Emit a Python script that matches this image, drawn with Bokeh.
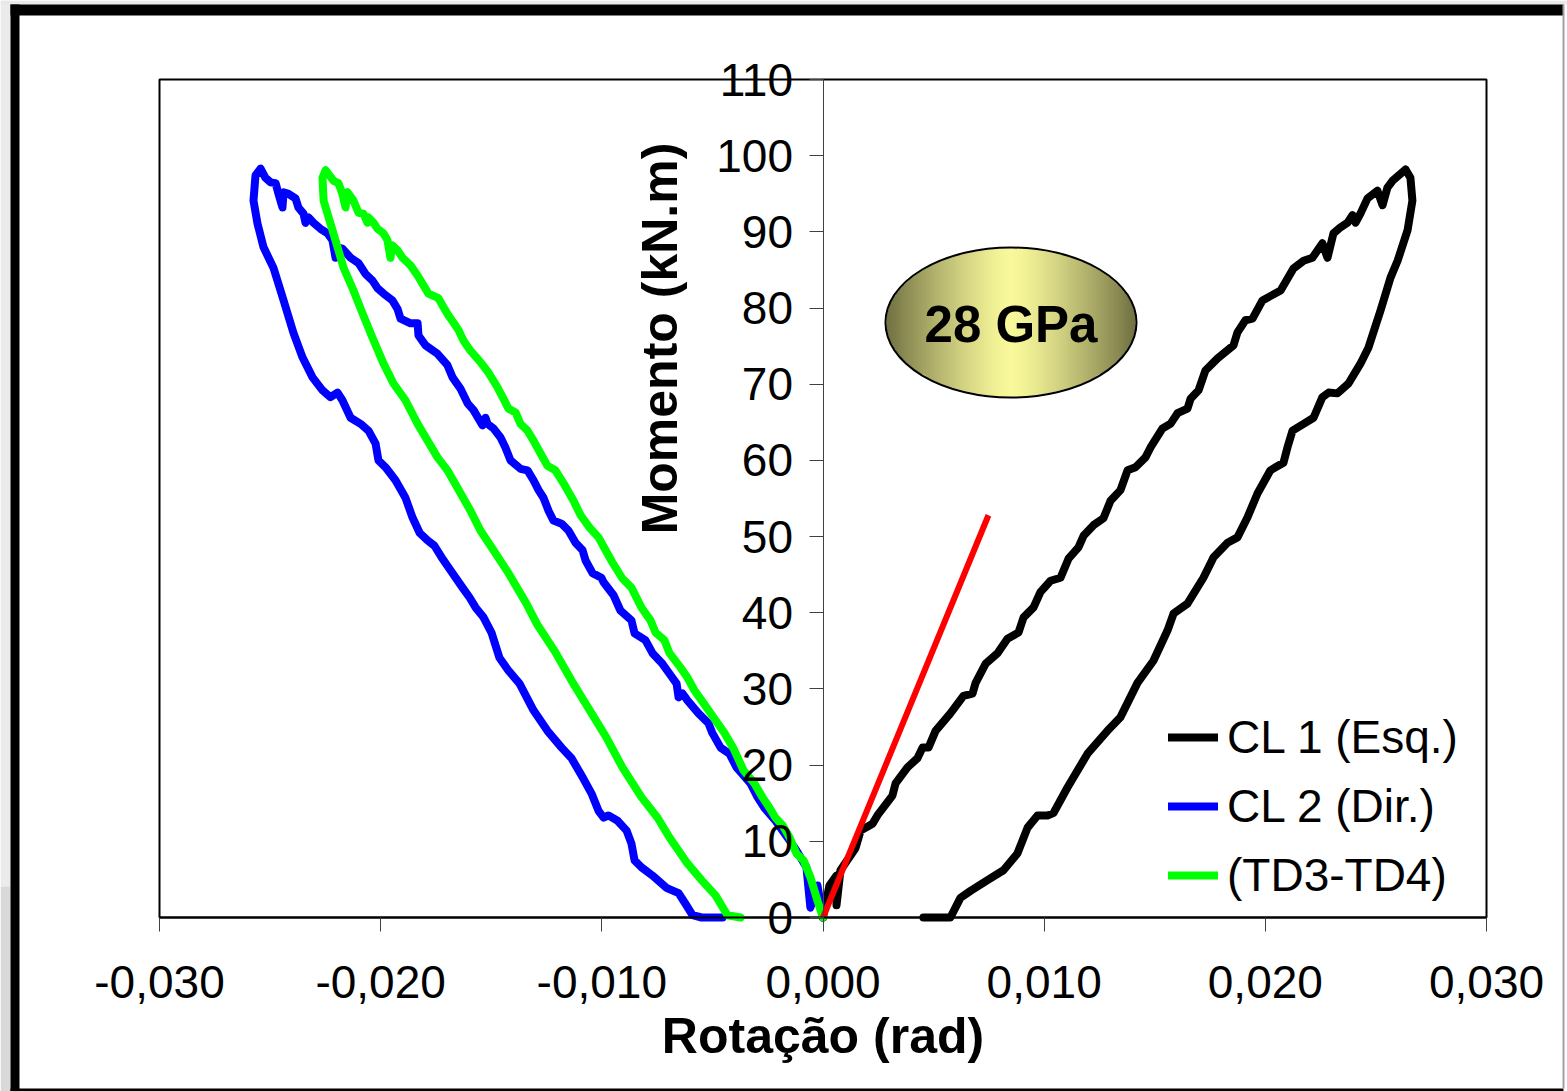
import numpy as np
from bokeh.plotting import figure
from bokeh.models import (CustomJSTickFormatter, FixedTicker, Legend, LegendItem,
                          Label, LinearAxis, Range1d)
from bokeh.embed import file_html
from bokeh.resources import INLINE

# ---------------- data (rotation in rad, moment in kN.m) ----------------
cl1_x = [0, 0.00029, 0.00061, 0.00061, 0.00079, 0.00147, 0.00170, 0.00224, 0.00246, 0.00314,
         0.00328, 0.00382, 0.00427, 0.00450, 0.00477, 0.00509, 0.00576, 0.00635, 0.00676, 0.00690,
         0.00735, 0.00789, 0.00834, 0.00884, 0.00907, 0.00952, 0.00983, 0.01029, 0.01074, 0.01110,
         0.01155, 0.01178, 0.01223, 0.01268, 0.01300, 0.01345, 0.01377, 0.01413, 0.01458, 0.01481,
         0.01535, 0.01571, 0.01603, 0.01648, 0.01662, 0.01698, 0.01729, 0.01784, 0.01856, 0.01874,
         0.01910, 0.01942, 0.01987, 0.02069, 0.02127, 0.02173, 0.02213, 0.02258, 0.02281, 0.02308,
         0.02340, 0.02372, 0.02394, 0.02408, 0.02430, 0.02462, 0.02507, 0.02530, 0.02552, 0.02575,
         0.02634,
         0.02656, 0.02665, 0.02643, 0.02598, 0.02566, 0.02521, 0.02466, 0.02430, 0.02376, 0.02326,
         0.02286, 0.02258, 0.02218, 0.02173, 0.02123, 0.02100, 0.02082, 0.02046, 0.02023, 0.01965,
         0.01919, 0.01874, 0.01829, 0.01766, 0.01720, 0.01648, 0.01585, 0.01558, 0.01494, 0.01422,
         0.01345, 0.01286, 0.01196, 0.01106, 0.01042, 0.01015, 0.00970, 0.00925, 0.00879, 0.00816,
         0.00744, 0.00667, 0.00622, 0.00576, 0.00454]
cl1_y = [0, 4.2, 5.5, 1.6, 6.2, 9.1, 11.4, 12.3, 13.4, 16.0,
         17.6, 19.7, 20.9, 22.3, 22.3, 24.5, 26.8, 29.1, 29.4, 30.8,
         33.3, 34.7, 36.6, 37.4, 39.4, 40.7, 42.7, 44.2, 44.6, 47.1,
         48.6, 50.1, 51.5, 52.4, 54.7, 56.1, 58.7, 59.1, 60.4, 61.7,
         64.2, 64.8, 66.2, 66.8, 68.1, 69.2, 71.8, 73.4, 75.1, 76.8,
         78.4, 78.6, 81.0, 82.3, 85.2, 86.2, 86.6, 88.5, 86.6, 89.8,
         90.6, 91.2, 92.2, 91.2, 92.4, 94.4, 95.4, 93.5, 95.8, 96.7,
         98.2,
         97.1, 94.1, 90.2, 86.2, 84.0, 79.7, 74.8, 72.7, 70.1, 68.8,
         68.9, 68.3, 65.6, 64.8, 63.9, 61.7, 59.7, 59.1, 58.7, 55.7,
         52.5, 49.9, 49.2, 47.3, 44.6, 41.2, 39.9, 37.7, 33.7, 30.8,
         26.3, 24.5, 21.5, 17.1, 13.7, 13.4, 13.4, 11.8, 8.4, 6.2,
         4.9, 3.5, 2.6, 0, 0]

cl2_x = [0, -0.00025, -0.00057, -0.00075, -0.00120, -0.00151, -0.00215, -0.00265, -0.00296, -0.00328,
         -0.00391, -0.00423, -0.00463, -0.00500, -0.00518, -0.00563, -0.00613, -0.00635, -0.00653, -0.00662,
         -0.00694, -0.00726, -0.00771, -0.00803, -0.00852, -0.00866, -0.00916, -0.00947, -0.00992, -0.01002,
         -0.01042, -0.01074, -0.01087, -0.01119, -0.01151, -0.01182, -0.01219, -0.01241, -0.01264, -0.01286,
         -0.01309, -0.01336, -0.01368, -0.01413, -0.01436, -0.01458, -0.01490, -0.01517, -0.01526, -0.01540,
         -0.01580, -0.01607, -0.01639, -0.01675, -0.01698, -0.01743, -0.01797, -0.01829, -0.01833, -0.01865,
         -0.01910, -0.01924, -0.01947, -0.01987, -0.02014, -0.02037, -0.02069, -0.02100, -0.02136, -0.02173,
         -0.02204, -0.02204, -0.02218, -0.02240, -0.02272, -0.02304, -0.02326, -0.02340, -0.02349, -0.02372,
         -0.02385, -0.02417, -0.02439, -0.02444, -0.02462, -0.02475, -0.02498, -0.02521, -0.02543,
         -0.02566, -0.02575, -0.02557, -0.02530, -0.02485, -0.02439, -0.02394, -0.02353, -0.02308, -0.02263,
         -0.02227, -0.02195, -0.02173, -0.02136, -0.02091, -0.02055, -0.02023, -0.02010, -0.01978, -0.01933,
         -0.01888, -0.01856, -0.01824, -0.01788, -0.01757, -0.01725, -0.01675, -0.01630, -0.01598, -0.01571,
         -0.01535, -0.01499, -0.01463, -0.01422, -0.01372, -0.01309, -0.01246, -0.01182, -0.01137, -0.01087,
         -0.01047, -0.01015, -0.00992, -0.00970, -0.00929, -0.00888, -0.00866, -0.00852, -0.00821, -0.00771,
         -0.00708, -0.00653, -0.00622, -0.00590, -0.00549, -0.00454]
cl2_y = [0, 4.2, 1.3, 6.6, 8.8, 10.1, 12.7, 14.4, 15.8, 17.6,
         19.7, 21.5, 22.3, 24.2, 25.5, 26.8, 28.5, 29.4, 28.9, 30.7,
         32.0, 33.3, 34.7, 36.4, 37.3, 39.0, 40.3, 42.3, 44.0, 44.6,
         45.2, 46.9, 48.2, 49.2, 50.8, 51.7, 52.1, 53.4, 55.1, 56.1,
         57.4, 58.7, 58.9, 60.0, 61.7, 63.0, 64.2, 64.8, 65.6, 64.6,
         66.6, 67.5, 69.4, 70.9, 72.5, 74.0, 75.1, 76.4, 78.0, 78.0,
         78.6, 79.9, 81.0, 81.9, 82.6, 83.6, 84.5, 85.9, 86.6, 87.8,
         88.0, 86.6, 88.9, 89.8, 90.4, 91.2, 91.9, 91.2, 92.4, 93.2,
         94.4, 95.0, 95.2, 93.2, 95.0, 96.4, 96.5, 97.1, 98.3,
         97.4, 94.1, 91.1, 88.0, 85.3, 81.0, 76.7, 73.5, 70.9, 69.2,
         68.3, 68.9, 67.9, 65.6, 64.8, 63.9, 62.2, 60.0, 59.1, 57.4,
         55.1, 52.5, 50.5, 49.5, 48.8, 47.3, 45.2, 43.3, 42.0, 40.7,
         39.4, 37.4, 34.1, 32.4, 30.7, 27.2, 24.5, 22.3, 20.9, 18.4,
         16.3, 14.0, 13.1, 13.4, 12.7, 11.4, 9.7, 7.5, 6.6, 5.5,
         3.9, 3.2, 1.8, 0.3, 0, 0]

td_x = [0, -0.00025, -0.00057, -0.00088, -0.00120, -0.00151, -0.00183, -0.00215, -0.00242, -0.00274,
        -0.00310, -0.00359, -0.00405, -0.00445, -0.00486, -0.00549, -0.00581, -0.00613, -0.00644, -0.00694,
        -0.00717, -0.00757, -0.00780, -0.00821, -0.00866, -0.00907, -0.00952, -0.00983, -0.01015, -0.01056,
        -0.01096, -0.01128, -0.01173, -0.01210, -0.01246, -0.01277, -0.01309, -0.01336, -0.01368, -0.01390,
        -0.01422, -0.01445, -0.01472, -0.01512, -0.01549, -0.01594, -0.01625, -0.01648, -0.01671, -0.01693,
        -0.01716, -0.01739, -0.01784, -0.01811, -0.01834, -0.01865, -0.01901, -0.01924, -0.01947, -0.01956,
        -0.01969, -0.01987, -0.02014, -0.02032, -0.02055, -0.02060, -0.02078, -0.02100, -0.02123, -0.02150,
        -0.02159, -0.02173, -0.02191, -0.02213, -0.02249,
        -0.02263, -0.02258, -0.02227, -0.02195, -0.02168, -0.02123, -0.02082, -0.02037, -0.01987, -0.01942,
        -0.01888, -0.01833, -0.01788, -0.01743, -0.01698, -0.01653, -0.01594, -0.01549, -0.01490, -0.01422,
        -0.01341, -0.01295, -0.01214, -0.01137, -0.01074, -0.00979, -0.00907, -0.00821, -0.00748, -0.00694,
        -0.00613, -0.00549, -0.00486, -0.00432, -0.00373]
td_y = [0, 2.2, 5.3, 7.5, 8.4, 10.5, 12.1, 13.1, 14.4, 15.8,
        17.6, 19.3, 22.2, 24.2, 25.9, 28.5, 29.8, 31.5, 32.8, 34.7,
        36.4, 37.4, 39.0, 40.7, 43.3, 44.5, 46.6, 48.2, 49.9, 51.2,
        52.8, 54.7, 57.0, 58.7, 59.3, 60.9, 62.6, 63.9, 64.8, 66.3,
        66.8, 68.1, 69.6, 71.5, 72.9, 74.4, 75.7, 77.1, 78.1, 79.0,
        80.1, 81.3, 81.9, 83.2, 84.3, 85.6, 86.6, 87.6, 88.2, 86.6,
        88.9, 89.8, 90.4, 91.2, 91.9, 91.2, 92.4, 92.5, 94.1, 95.2,
        93.2, 95.0, 96.4, 96.7, 98.1,
        97.1, 94.1, 91.1, 88.0, 85.3, 82.3, 79.3, 76.1, 72.7, 70.1,
        67.9, 64.8, 62.6, 60.4, 58.7, 56.4, 53.4, 50.8, 48.2, 45.2,
        41.2, 38.6, 35.0, 31.1, 28.1, 23.6, 19.7, 15.8, 13.1, 10.5,
        7.1, 4.9, 2.9, 0.3, 0]

ref_x = [0.0, 0.00748]
ref_y = [0.0, 52.8]

series_labels = ["CL 1 (Esq.)", "CL 2 (Dir.)", "(TD3-TD4)"]
x_ticks = [-0.03, -0.02, -0.01, 0.0, 0.01, 0.02, 0.03]
y_ticks = list(range(0, 111, 10))
x_lim = (-0.03, 0.03)
y_lim = (0, 110)
badge_text = "28 GPa"

FONT = "Liberation Sans"

# ---------------- canvas geometry ----------------
W, H = 1567, 1091
PLOT_L, PLOT_R, PLOT_T, PLOT_B = 159, 1486, 79, 917     # plot box in canvas px
PXX = (PLOT_R - PLOT_L) / (x_lim[1] - x_lim[0])
PXY = (PLOT_B - PLOT_T) / (y_lim[1] - y_lim[0])
x_start = x_lim[0] - PLOT_L / PXX
x_end = x_lim[1] + (W - PLOT_R) / PXX
y_end = y_lim[1] + PLOT_T / PXY
y_start = y_lim[0] - (H - PLOT_B) / PXY


def cx(px):   # canvas px -> data x (decorations only)
    return x_start + px / PXX


def cy(py):   # canvas px (from top) -> data y (decorations only)
    return y_end - py / PXY


p = figure(width=W, height=H, min_border=0,
           x_range=Range1d(x_start, x_end), y_range=Range1d(y_start, y_end),
           x_axis_location=None, y_axis_location=None,
           output_backend="svg", toolbar_location=None,
           background_fill_color="white", border_fill_color="white")
p.grid.visible = False
p.outline_line_color = None

# ---------------- slide frame decoration ----------------
deco = [  # (left, right, top, bottom, colour) in canvas px
    (0, 10, 0, 886, "#ebebeb"),
    (0, 10, 886, H, "#d9d9d9"),
    (0, W, 0, 4, "#e8e8e8"),
    (10, 19, 4, H, "black"),
    (10, 1563, 4, 15, "black"),
    (10, 1563, 1088, H, "black"),
    (1562, 1564, 4, 1088, "#a0a0a0"),
]
p.quad(left=[cx(d[0]) for d in deco], right=[cx(d[1]) for d in deco],
       top=[cy(d[2]) for d in deco], bottom=[cy(d[3]) for d in deco],
       fill_color=[d[4] for d in deco], line_color=None)

# plot-area box
p.quad(left=[x_lim[0]], right=[x_lim[1]], bottom=[y_lim[0]], top=[y_lim[1]],
       fill_color=None, line_color="black", line_width=2)

# ---------------- axes ----------------
xa = LinearAxis(fixed_location=0, bounds=x_lim)
xa.ticker = FixedTicker(ticks=x_ticks)
xa.formatter = CustomJSTickFormatter(
    code="const v = Math.abs(tick) < 1e-9 ? 0 : tick; return v.toFixed(3).replace('.', ',');")
xa.major_label_text_font = FONT
xa.major_label_text_font_size = "46px"
xa.major_label_text_color = "black"
xa.major_label_standoff = 34
xa.major_tick_out = 14
xa.major_tick_in = 0
xa.minor_tick_out = 0
xa.minor_tick_in = 0
xa.major_tick_line_color = "#404040"
xa.axis_line_color = "black"
xa.axis_line_width = 2
xa.axis_label = "Rotação (rad)"
xa.axis_label_text_font = FONT
xa.axis_label_text_font_size = "50px"
xa.axis_label_text_font_style = "bold"
xa.axis_label_text_color = "black"
xa.axis_label_standoff = 7
p.add_layout(xa, "below")

ya = LinearAxis(fixed_location=0, bounds=y_lim)
ya.ticker = FixedTicker(ticks=y_ticks)
ya.major_label_text_font = FONT
ya.major_label_text_font_size = "46px"
ya.major_label_text_color = "black"
ya.major_label_standoff = 16
ya.major_tick_out = 14
ya.major_tick_in = 0
ya.minor_tick_out = 0
ya.minor_tick_in = 0
ya.major_tick_line_color = "#404040"
ya.axis_line_color = "#404040"
ya.axis_line_width = 1
ya.axis_label = None
p.add_layout(ya, "left")

# ---------------- badge (gradient ellipse) ----------------
ell_cx, ell_cy, ell_w, ell_h = 0.00850, 78.1, 0.01135, 19.7
nx, ny = 260, 160
U, V = np.meshgrid(np.linspace(-1, 1, nx), np.linspace(-1, 1, ny))
inside = (U ** 2 + V ** 2) <= 1.0
t = np.abs(U) ** 1.3
edge_rgb = np.array([112, 112, 66], dtype=float)
mid_rgb = np.array([250, 250, 156], dtype=float)
rgb = mid_rgb * (1 - t[..., None]) + edge_rgb * t[..., None]
img = np.zeros((ny, nx), dtype=np.uint32)
view = img.view(dtype=np.uint8).reshape((ny, nx, 4))
view[..., 0] = rgb[..., 0].astype(np.uint8)
view[..., 1] = rgb[..., 1].astype(np.uint8)
view[..., 2] = rgb[..., 2].astype(np.uint8)
view[..., 3] = np.where(inside, 255, 0).astype(np.uint8)
p.image_rgba(image=[img], x=ell_cx - ell_w / 2, y=ell_cy - ell_h / 2, dw=ell_w, dh=ell_h)
p.ellipse(x=[ell_cx], y=[ell_cy], width=ell_w, height=ell_h,
          fill_color=None, line_color="black", line_width=2)
p.add_layout(Label(x=ell_cx, y=ell_cy - 0.3, text=badge_text, text_align="center",
                   text_baseline="middle", text_font=FONT, text_font_size="51px",
                   text_font_style="bold", text_color="black"))

# ---------------- curves ----------------
lw = 8
r1 = p.line(cl1_x, cl1_y, line_color="black", line_width=lw, line_join="round", line_cap="round")
r2 = p.line(cl2_x, cl2_y, line_color="#0000ff", line_width=lw, line_join="round", line_cap="round")
r3 = p.line(td_x, td_y, line_color="#00ff00", line_width=lw, line_join="round", line_cap="round")
p.line(ref_x, ref_y, line_color="#ff0000", line_width=6, line_cap="butt")

legend = Legend(items=[LegendItem(label=series_labels[0], renderers=[r1]),
                       LegendItem(label=series_labels[1], renderers=[r2]),
                       LegendItem(label=series_labels[2], renderers=[r3])],
                location=(1168, 189))
legend.label_text_font = FONT
legend.label_text_font_size = "46px"
legend.label_text_color = "black"
legend.glyph_width = 50
legend.glyph_height = 40
legend.label_standoff = 9
legend.spacing = 15
legend.padding = 0
legend.margin = 0
legend.border_line_color = None
legend.background_fill_alpha = 0
p.add_layout(legend)

# y-axis title (placed like the original, above the middle)
p.add_layout(Label(x=-0.00735, y=76.0, text="Momento (kN.m)", angle=np.pi / 2,
                   text_align="center", text_baseline="middle", text_font=FONT,
                   text_font_size="50px", text_font_style="bold", text_color="black"))

open("out.html", "w").write(file_html(p, INLINE))
